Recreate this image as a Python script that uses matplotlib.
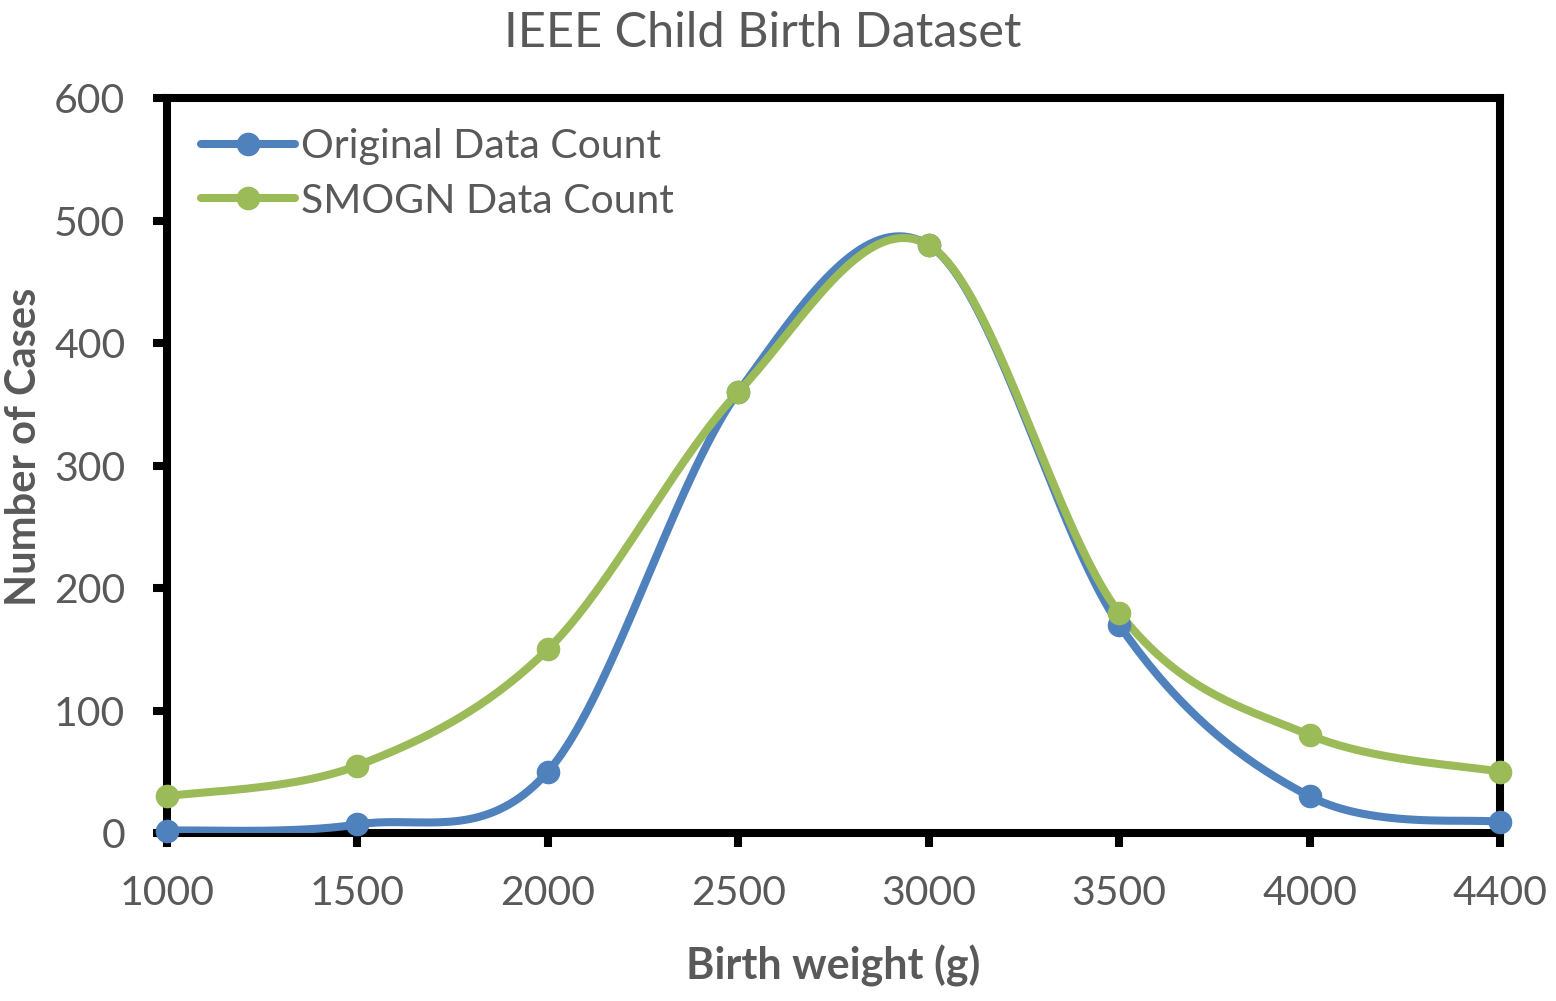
import matplotlib.pyplot as plt
import numpy as np

# birth weight categories (equally spaced category axis, like Excel)
categories = ["1000", "1500", "2000", "2500", "3000", "3500", "4000", "4400"]
original_counts = [2, 7, 50, 360, 480, 170, 30, 9]
smogn_counts = [30, 55, 150, 360, 480, 180, 80, 50]

BLUE = "#4F81BD"
GREEN = "#9BBB59"
GREY = "#595959"


def smooth(xs, ys, n=40):
    # Excel style smoothed line: Catmull-Rom segments as cubic Bezier
    p = np.column_stack([xs, ys]).astype(float)
    p = np.vstack([p[0], p, p[-1]])
    out = []
    for i in range(1, len(p) - 2):
        p0, p1, p2, p3 = p[i - 1], p[i], p[i + 1], p[i + 2]
        c1 = p1 + (p2 - p0) / 6
        c2 = p2 - (p3 - p1) / 6
        t = np.linspace(0, 1, n)[:, None]
        seg = ((1 - t) ** 3) * p1 + 3 * ((1 - t) ** 2) * t * c1 + 3 * (1 - t) * t ** 2 * c2 + t ** 3 * p2
        out.append(seg if i == 1 else seg[1:])
    out = np.vstack(out)
    return out[:, 0], out[:, 1]


plt.rcParams["font.family"] = ["Lato", "DejaVu Sans"]

fig = plt.figure(figsize=(15.56, 10.01), dpi=100)
ax = fig.add_axes([0.1073, 0.1678, 0.8567, 0.7343])

x = np.arange(len(categories))
for vals, color, label in [(original_counts, BLUE, "Original Data Count"),
                           (smogn_counts, GREEN, "SMOGN Data Count")]:
    sx, sy = smooth(x, vals)
    ax.plot(sx, sy, color=color, lw=5.8, solid_capstyle="round", zorder=3)
    ax.plot(x, vals, "o", color=color, ms=16, zorder=4, clip_on=False)
    ax.plot([], [], color=color, lw=5.8, marker="o", ms=16, label=label,
            solid_capstyle="round")

ax.set_xlim(0, len(categories) - 1)
ax.set_ylim(0, 600)
ax.set_xticks(x)
ax.set_xticklabels(categories)
ax.set_yticks(range(0, 601, 100))

for s in ax.spines.values():
    s.set_linewidth(5.8)
    s.set_color("black")
ax.tick_params(axis="both", length=10, width=5.8, color="black",
               labelsize=29.5, labelcolor=GREY, direction="out")
ax.tick_params(axis="x", pad=20)
ax.tick_params(axis="y", pad=20)

fig.text(0.49, 0.967, "IEEE Child Birth Dataset", fontsize=35, color=GREY,
         ha="center", va="center")
ax.set_xlabel("Birth weight (g)", fontsize=31, fontweight="bold", color=GREY, labelpad=24)
ax.set_ylabel("Number of Cases", fontsize=30, fontweight="bold", color=GREY, labelpad=14)
ax.yaxis.set_label_coords(-0.093, 0.525)

leg = ax.legend(loc="upper left", bbox_to_anchor=(0.007, 0.992), frameon=False,
                fontsize=29.5, labelcolor=GREY, handlelength=2.3, handletextpad=0.15,
                labelspacing=0.42, borderaxespad=0.2)

fig.savefig("out.png", dpi=100)
